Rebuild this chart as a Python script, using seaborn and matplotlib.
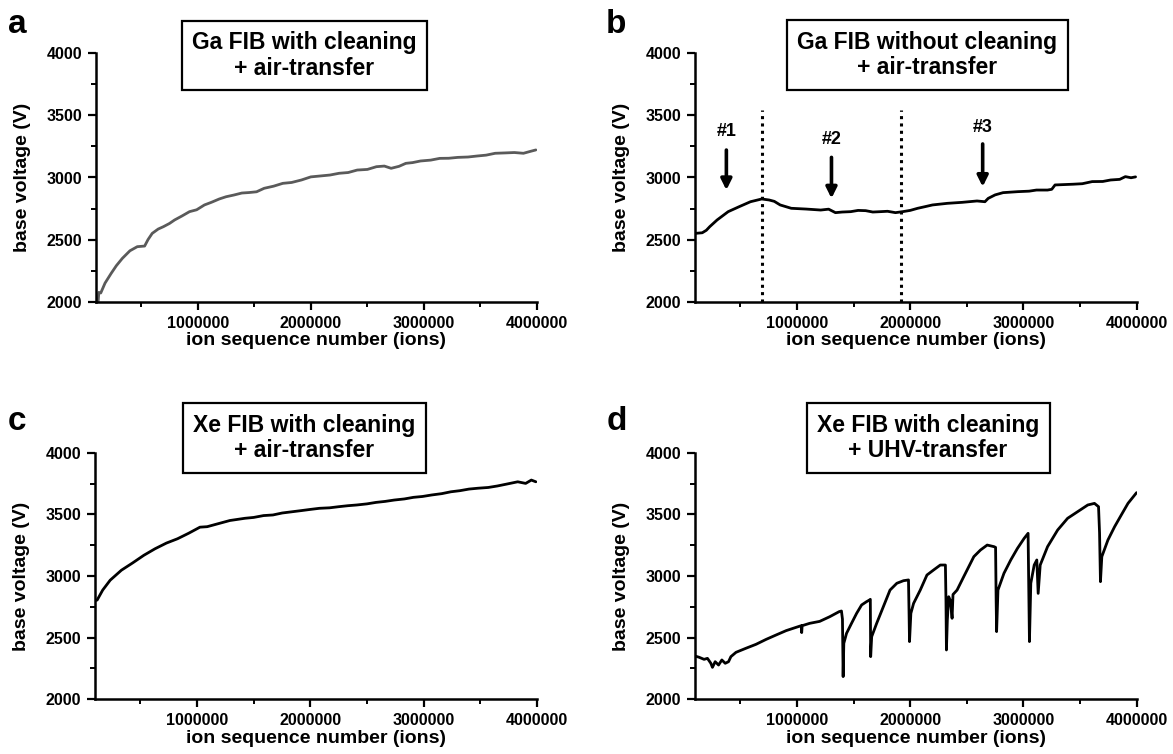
import numpy as np
import pandas as pd
import seaborn as sns
import matplotlib
matplotlib.use("Agg")
import matplotlib.pyplot as plt
from matplotlib.ticker import MultipleLocator, FixedLocator

# ---------------- data ----------------
a_x = [0.100e6, 0.119e6, 0.125e6, 0.142e6, 0.180e6, 0.234e6, 0.280e6, 0.333e6, 0.400e6, 0.465e6,
       0.530e6, 0.560e6, 0.597e6, 0.650e6, 0.696e6, 0.750e6, 0.795e6, 0.860e6, 0.927e6, 0.990e6,
       1.059e6, 1.120e6, 1.190e6, 1.250e6, 1.320e6, 1.390e6, 1.455e6, 1.520e6, 1.587e6, 1.670e6,
       1.752e6, 1.830e6, 1.917e6, 2.000e6, 2.080e6, 2.170e6, 2.250e6, 2.330e6, 2.410e6, 2.500e6,
       2.580e6, 2.650e6, 2.710e6, 2.780e6, 2.840e6, 2.900e6, 2.970e6, 3.060e6, 3.140e6, 3.220e6,
       3.300e6, 3.390e6, 3.470e6, 3.550e6, 3.630e6, 3.720e6, 3.800e6, 3.880e6, 3.940e6, 3.990e6]
a_y = [2000, 2000, 2075, 2070, 2150, 2228, 2290, 2349, 2410, 2443,
       2448, 2500, 2550, 2585, 2604, 2630, 2658, 2690, 2725, 2740,
       2779, 2800, 2827, 2845, 2859, 2875, 2879, 2885, 2913, 2930,
       2953, 2960, 2980, 3005, 3012, 3020, 3034, 3040, 3060, 3065,
       3087, 3092, 3074, 3090, 3114, 3120, 3133, 3140, 3154, 3155,
       3162, 3165, 3173, 3180, 3195, 3198, 3201, 3195, 3210, 3222]

b_x = [0.100e6, 0.164e6, 0.200e6, 0.230e6, 0.295e6, 0.393e6, 0.490e6, 0.590e6, 0.689e6, 0.754e6,
       0.800e6, 0.852e6, 0.950e6, 1.080e6, 1.210e6, 1.280e6, 1.340e6, 1.400e6, 1.475e6, 1.540e6,
       1.607e6, 1.670e6, 1.738e6, 1.800e6, 1.870e6, 1.934e6, 2.000e6, 2.066e6, 2.130e6, 2.197e6,
       2.328e6, 2.459e6, 2.590e6, 2.660e6, 2.689e6, 2.750e6, 2.820e6, 2.950e6, 3.050e6, 3.115e6,
       3.213e6, 3.250e6, 3.279e6, 3.440e6, 3.520e6, 3.607e6, 3.700e6, 3.770e6, 3.850e6, 3.900e6,
       3.950e6, 3.990e6]
b_y = [2550, 2555, 2575, 2604, 2658, 2725, 2765, 2805, 2827, 2819,
       2808, 2779, 2752, 2746, 2738, 2745, 2717, 2722, 2725, 2735,
       2733, 2722, 2725, 2728, 2717, 2725, 2735, 2752, 2765, 2779,
       2792, 2800, 2811, 2805, 2832, 2860, 2878, 2886, 2890, 2899,
       2899, 2905, 2940, 2946, 2950, 2967, 2968, 2980, 2985, 3007,
       2998, 3005]

c_x = [0.100e6, 0.119e6, 0.168e6, 0.234e6, 0.333e6, 0.432e6, 0.531e6, 0.630e6, 0.730e6, 0.828e6,
       0.927e6, 1.026e6, 1.090e6, 1.158e6, 1.290e6, 1.422e6, 1.500e6, 1.587e6, 1.670e6, 1.752e6,
       1.830e6, 1.917e6, 2.000e6, 2.080e6, 2.170e6, 2.250e6, 2.330e6, 2.410e6, 2.500e6, 2.580e6,
       2.660e6, 2.740e6, 2.830e6, 2.910e6, 2.990e6, 3.070e6, 3.160e6, 3.240e6, 3.320e6, 3.400e6,
       3.480e6, 3.570e6, 3.650e6, 3.730e6, 3.830e6, 3.900e6, 3.950e6, 3.990e6]
c_y = [2800, 2805, 2886, 2966, 3047, 3106, 3168, 3221, 3267, 3302,
       3347, 3396, 3400, 3417, 3450, 3468, 3475, 3490, 3495, 3511,
       3520, 3530, 3540, 3549, 3553, 3562, 3570, 3576, 3585, 3597,
       3605, 3616, 3625, 3638, 3645, 3657, 3668, 3683, 3692, 3705,
       3712, 3718, 3730, 3745, 3764, 3751, 3778, 3764]

d_x = [0.100e6, 0.136e6, 0.180e6, 0.210e6, 0.240e6, 0.254e6, 0.278e6, 0.308e6, 0.337e6, 0.367e6,
       0.396e6, 0.417e6, 0.462e6, 0.550e6, 0.639e6, 0.728e6, 0.817e6, 0.905e6, 0.994e6, 1.038e6,
       1.042e6, 1.046e6, 1.112e6, 1.201e6, 1.290e6, 1.373e6, 1.393e6, 1.402e6, 1.408e6, 1.414e6,
       1.438e6, 1.482e6, 1.527e6, 1.571e6, 1.615e6, 1.640e6, 1.648e6, 1.651e6, 1.660e6, 1.704e6,
       1.763e6, 1.822e6, 1.882e6, 1.941e6, 1.985e6, 1.990e6, 1.994e6, 2.006e6, 2.030e6, 2.089e6,
       2.148e6, 2.207e6, 2.266e6, 2.311e6, 2.316e6, 2.320e6, 2.328e6, 2.340e6, 2.355e6, 2.370e6,
       2.378e6, 2.414e6, 2.473e6, 2.562e6, 2.621e6, 2.680e6, 2.740e6, 2.754e6, 2.759e6, 2.763e6,
       2.775e6, 2.828e6, 2.888e6, 2.947e6, 3.006e6, 3.041e6, 3.047e6, 3.053e6, 3.065e6, 3.095e6,
       3.118e6, 3.130e6, 3.148e6, 3.213e6, 3.302e6, 3.390e6, 3.479e6, 3.568e6, 3.627e6, 3.663e6,
       3.672e6, 3.680e6, 3.692e6, 3.746e6, 3.805e6, 3.864e6, 3.923e6, 3.999e6]
d_y = [2351, 2341, 2324, 2332, 2292, 2259, 2305, 2278, 2319, 2292,
       2305, 2346, 2381, 2414, 2446, 2486, 2522, 2557, 2584, 2597,
       2541, 2597, 2616, 2632, 2670, 2711, 2716, 2650, 2184, 2454,
       2535, 2616, 2697, 2765, 2792, 2805, 2811, 2346, 2508, 2616,
       2751, 2886, 2941, 2962, 2968, 2700, 2468, 2697, 2778, 2886,
       3008, 3049, 3089, 3089, 2800, 2400, 2643, 2832, 2800, 2657,
       2850, 2886, 2995, 3157, 3211, 3251, 3238, 3232, 2800, 2549,
       2886, 3022, 3130, 3224, 3305, 3346, 2900, 2468, 2941, 3089,
       3130, 2859, 3089, 3238, 3373, 3468, 3522, 3576, 3589, 3562,
       3350, 2954, 3157, 3292, 3400, 3495, 3589, 3676]

panel_letters = ["a", "b", "c", "d"]
panel_titles = ["Ga FIB with cleaning\n+ air-transfer",
                "Ga FIB without cleaning\n+ air-transfer",
                "Xe FIB with cleaning\n+ air-transfer",
                "Xe FIB with cleaning\n+ UHV-transfer"]
line_colors = ["#5a5a5a", "black", "black", "black"]

# panel b annotations
region_bounds = [0.695e6, 1.921e6]
region_top = 3544
marker_labels = ["#1", "#2", "#3"]
marker_x = [0.377e6, 1.305e6, 2.640e6]
marker_tail = [3221, 3162, 3270]
marker_tip = [2899, 2832, 2926]
marker_text_y = [3369, 3302, 3404]

x_ticks = [1000000, 2000000, 3000000, 4000000]
y_ticks = [2000, 2500, 3000, 3500, 4000]

# ---------------- figure ----------------
sns.set_theme(style="ticks")
plt.rcParams["font.family"] = ["Liberation Sans", "DejaVu Sans"]
plt.rcParams["font.weight"] = "bold"
plt.rcParams["text.color"] = "black"
plt.rcParams["axes.labelcolor"] = "black"
plt.rcParams["xtick.color"] = "black"
plt.rcParams["ytick.color"] = "black"

W, H = 1173, 754
fig = plt.figure(figsize=(W / 100, H / 100), dpi=100)
fig.patch.set_facecolor("white")

# axes rectangles in pixels: left, right, top, bottom
rects_px = [(96, 537, 53.3, 301.7), (695, 1136.7, 53.3, 301.7),
            (95, 537, 452.7, 699.3), (695, 1136.7, 452.7, 699.3)]
letter_pos_px = [(8, 33), (606, 33), (8, 430), (607, 430)]
box_center_px = [(304.5, 55.5), (927.5, 55), (304, 438), (928, 438)]

datasets = [(a_x, a_y), (b_x, b_y), (c_x, c_y), (d_x, d_y)]

for i, (l, r, t, b) in enumerate(rects_px):
    ax = fig.add_axes([l / W, (H - b) / H, (r - l) / W, (b - t) / H])
    xs, ys = datasets[i]
    df = pd.DataFrame({"ion": xs, "voltage": ys})
    sns.lineplot(data=df, x="ion", y="voltage", ax=ax, color=line_colors[i],
                 linewidth=2.0, sort=False, estimator=None)
    ax.set_xlim(100000, 4000000)
    ax.set_ylim(2000, 4000)
    ax.xaxis.set_major_locator(FixedLocator(x_ticks))
    ax.xaxis.set_minor_locator(MultipleLocator(500000))
    ax.yaxis.set_major_locator(FixedLocator(y_ticks))
    ax.yaxis.set_minor_locator(MultipleLocator(250))
    ax.set_xticklabels([str(v) for v in x_ticks])
    ax.set_yticklabels([str(v) for v in y_ticks])
    for s in ["top", "right"]:
        ax.spines[s].set_visible(False)
    for s in ["left", "bottom"]:
        ax.spines[s].set_linewidth(1.8)
        ax.spines[s].set_color("black")
    ax.tick_params(which="major", direction="out", length=6, width=1.6,
                   labelsize=11.5, colors="black", pad=4)
    ax.tick_params(which="minor", direction="out", length=3.5, width=1.4, colors="black")
    for lab in ax.get_xticklabels() + ax.get_yticklabels():
        lab.set_fontweight("bold")
        lab.set_color("black")
    ax.set_xlabel("ion sequence number (ions)", fontsize=14, fontweight="bold",
                  labelpad=1, color="black")
    ax.set_ylabel("base voltage (V)", fontsize=14, fontweight="bold", labelpad=11,
                  color="black")
    ax.set_facecolor("white")
    ax.patch.set_alpha(0)

    lx, ly = letter_pos_px[i]
    fig.text(lx / W, (H - ly) / H, panel_letters[i], fontsize=24, fontweight="bold",
             ha="left", va="baseline", color="black")
    bx, by = box_center_px[i]
    fig.text(bx / W, (H - by) / H, panel_titles[i], fontsize=16.5, fontweight="bold",
             ha="center", va="center", linespacing=1.15, zorder=10, color="black",
             bbox=dict(boxstyle="square,pad=0.45", fc="white", ec="black", lw=1.6))

    if i == 1:
        ax.vlines(region_bounds, 2000, region_top, colors="black",
                  linestyles=(0, (1, 1.4)), linewidth=2.2)
        for lab, mx, mt, mtip, mty in zip(marker_labels, marker_x, marker_tail,
                                          marker_tip, marker_text_y):
            ax.annotate("", xy=(mx, mtip), xytext=(mx, mt),
                        arrowprops=dict(arrowstyle="-|>", lw=2.6, color="black",
                                        mutation_scale=16, shrinkA=0, shrinkB=0))
            ax.text(mx, mty, lab, fontsize=13, fontweight="bold", ha="center",
                    va="center", color="black")

fig.savefig("out.png", dpi=100, facecolor="white")
